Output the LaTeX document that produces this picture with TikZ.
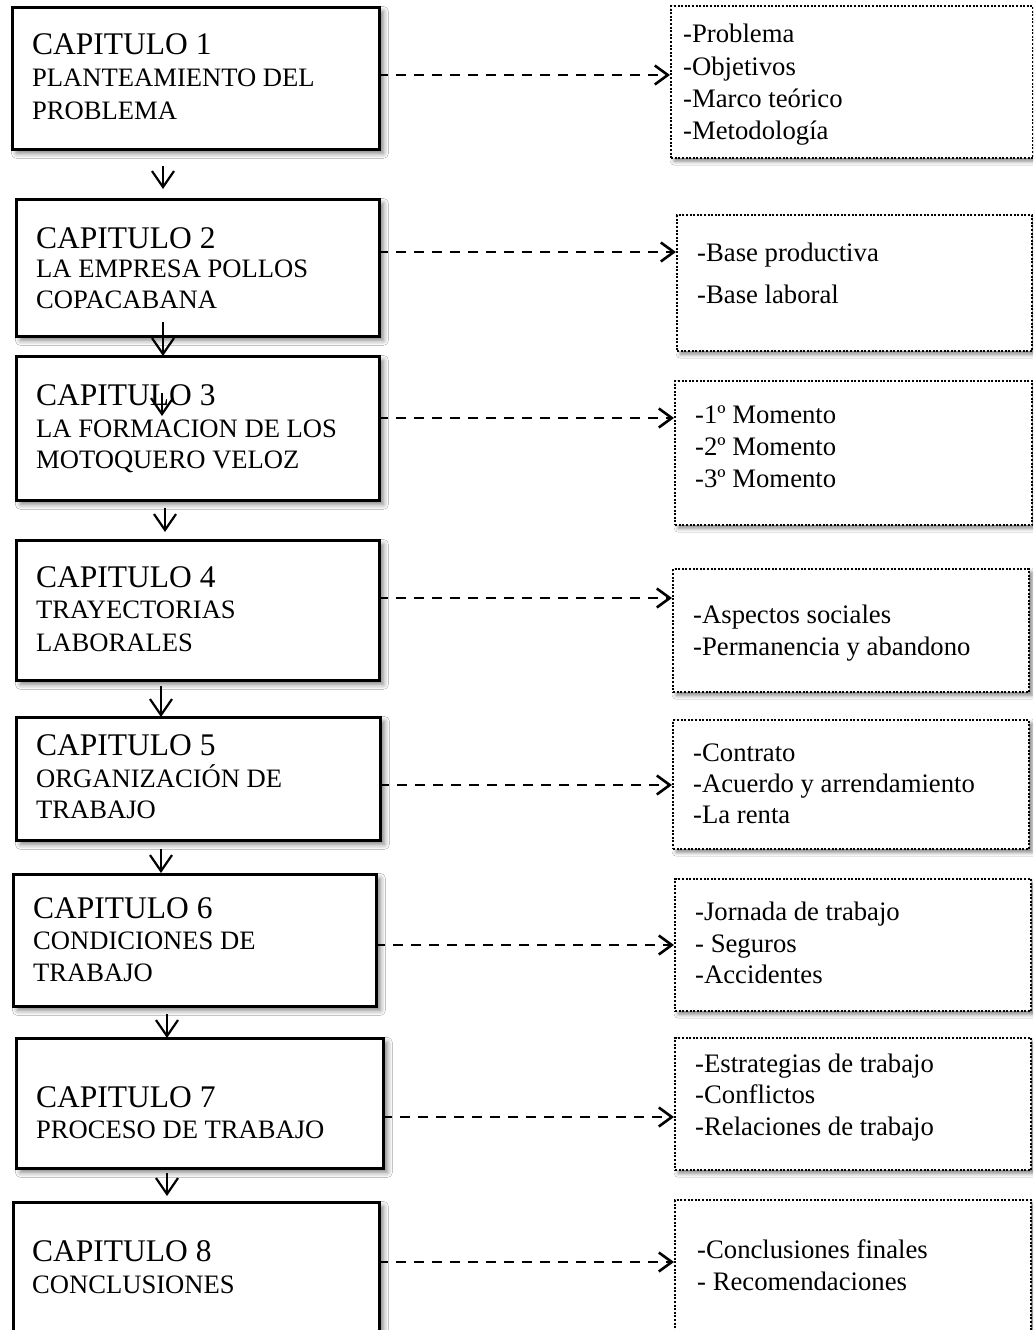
\documentclass[tikz,border=0pt]{standalone}
\usepackage{fontspec}
\setmainfont{Liberation Serif}
\usetikzlibrary{arrows.meta,shadows.blur}

\tikzset{
  chapbox/.style={draw=black, line width=2.8pt, fill=white, rectangle, inner sep=0pt,
    anchor=north west,
    blur shadow={shadow xshift=4pt, shadow yshift=-4pt, shadow blur radius=5pt, shadow opacity=50}},
  itembox/.style={draw=black, line width=2.4pt, dash pattern=on 2pt off 1.6pt, fill=white,
    rectangle, inner sep=0pt, anchor=north west,
    blur shadow={shadow xshift=3pt, shadow yshift=-3pt, shadow blur radius=4pt, shadow opacity=50}},
  head/.style={anchor=base west, inner sep=0pt, font=\fontsize{31.5}{33}\selectfont},
  sub/.style={anchor=base west, inner sep=0pt, font=\fontsize{26.6}{31}\selectfont},
  item/.style={anchor=base west, inner sep=0pt, font=\fontsize{26.7}{31}\selectfont},
  down/.style={line width=2.2pt, -{Straight Barb[length=16pt, width=22pt, line width=2.2pt]}},
  side/.style={line width=2.6pt, dash pattern=on 10pt off 8pt,
    -{Straight Barb[length=13pt, width=19pt, line width=2.6pt, sep=0pt]}},
}

\begin{document}
\begin{tikzpicture}[x=1pt, y=-1pt]
\clip (0,0) rectangle (1033,1330);
\fill[white] (0,0) rectangle (1033,1330);

% chapter boxes (left column)
\node[chapbox, minimum width=367pt, minimum height=142pt] (b1) at (11,6) {};
\node[chapbox, minimum width=363pt, minimum height=137pt] (b2) at (15,198) {};
\node[chapbox, minimum width=363pt, minimum height=144pt] (b3) at (15,355) {};
\node[chapbox, minimum width=363pt, minimum height=140pt] (b4) at (15,539) {};
\node[chapbox, minimum width=364pt, minimum height=123pt] (b5) at (15,716) {};
\node[chapbox, minimum width=363pt, minimum height=132pt] (b6) at (12,873) {};
\node[chapbox, minimum width=367pt, minimum height=130pt] (b7) at (15,1037) {};
\node[chapbox, minimum width=366pt, minimum height=170pt] (b8) at (12,1201) {};

% content boxes (right column)
\node[itembox, minimum width=362pt, minimum height=152pt] (r1) at (670,5) {};
\node[itembox, minimum width=355pt, minimum height=136pt] (r2) at (676,214) {};
\node[itembox, minimum width=357pt, minimum height=144pt] (r3) at (674,380) {};
\node[itembox, minimum width=356pt, minimum height=123pt] (r4) at (672,568) {};
\node[itembox, minimum width=356pt, minimum height=129pt] (r5) at (672,719) {};
\node[itembox, minimum width=356pt, minimum height=132pt] (r6) at (674,878) {};
\node[itembox, minimum width=356pt, minimum height=132pt] (r7) at (674,1037) {};
\node[itembox, minimum width=356pt, minimum height=170pt] (r8) at (674,1199) {};

% chapter titles
\node[head] (h1) at (32,55) {CAPITULO 1};
\node[sub] (h1a) at (32,86) {PLANTEAMIENTO DEL};
\node[sub] (h1b) at (32,119) {PROBLEMA};

\node[head] (h2) at (36,248) {CAPITULO 2};
\node[sub] (h2a) at (36,277) {LA EMPRESA POLLOS};
\node[sub] (h2b) at (36,308) {COPACABANA};

\node[head] (h3) at (36,405) {CAPITULO 3};
\node[sub] (h3a) at (36,437) {LA FORMACION DE LOS};
\node[sub] (h3b) at (36,468) {MOTOQUERO VELOZ};

\node[head] (h4) at (36,587) {CAPITULO 4};
\node[sub] (h4a) at (36,618) {TRAYECTORIAS};
\node[sub] (h4b) at (36,651) {LABORALES};

\node[head] (h5) at (36,755) {CAPITULO 5};
\node[sub] (h5a) at (36,787) {ORGANIZACIÓN DE};
\node[sub] (h5b) at (36,818) {TRABAJO};

\node[head] (h6) at (33,918) {CAPITULO 6};
\node[sub] (h6a) at (33,949) {CONDICIONES DE};
\node[sub] (h6b) at (33,981) {TRABAJO};

\node[head] (h7) at (36,1107) {CAPITULO 7};
\node[sub] (h7a) at (36,1138) {PROCESO DE TRABAJO};

\node[head] (h8) at (32,1261) {CAPITULO 8};
\node[sub] (h8a) at (32,1293) {CONCLUSIONES};

% chapter contents
\node[item] (i11) at (683,43) {-Problema};
\node[item] (i12) at (683,75) {-Objetivos};
\node[item] (i13) at (683,107) {-Marco teórico};
\node[item] (i14) at (683,139) {-Metodología};

\node[item] (i21) at (697,261) {-Base productiva};
\node[item] (i22) at (697,303) {-Base laboral};

\node[item] (i31) at (695,423) {-1º Momento};
\node[item] (i32) at (695,455) {-2º Momento};
\node[item] (i33) at (695,487) {-3º Momento};

\node[item] (i41) at (693,623) {-Aspectos sociales};
\node[item] (i42) at (693,655) {-Permanencia y abandono};

\node[item] (i51) at (693,761) {-Contrato};
\node[item] (i52) at (693,792) {-Acuerdo y arrendamiento};
\node[item] (i53) at (693,823) {-La renta};

\node[item] (i61) at (695,920) {-Jornada de trabajo};
\node[item] (i62) at (695,952) {- Seguros};
\node[item] (i63) at (695,983) {-Accidentes};

\node[item] (i71) at (695,1072) {-Estrategias de trabajo};
\node[item] (i72) at (695,1103) {-Conflictos};
\node[item] (i73) at (695,1135) {-Relaciones de trabajo};

\node[item] (i81) at (697,1258) {-Conclusiones finales};
\node[item] (i82) at (697,1290) {- Recomendaciones};

% end points of the downward arrows
\coordinate (a1s) at (163,166);  \coordinate (a1e) at (163,189);
\coordinate (a2s) at (163,322);  \coordinate (a2e) at (163,356);
\coordinate (a3s) at (165,508);  \coordinate (a3e) at (165,532);
\coordinate (a4s) at (161,686);  \coordinate (a4e) at (161,717);
\coordinate (a5s) at (161,849);  \coordinate (a5e) at (161,873);
\coordinate (a6s) at (167,1014); \coordinate (a6e) at (167,1038);
\coordinate (a7s) at (167,1173); \coordinate (a7e) at (167,1196);
\coordinate (sx1) at (162,393);  \coordinate (sx2) at (162,416);

\draw[down] (a1s) -- (a1e);
\draw[down] (a2s) -- (a2e);
\draw[down] (a3s) -- (a3e);
\draw[down] (a4s) -- (a4e);
\draw[down] (a5s) -- (a5e);
\draw[down] (a6s) -- (a6e);
\draw[down] (a7s) -- (a7e);
\draw[down] (sx1) -- (sx2);

% dashed links from each chapter to its contents
\coordinate (d1) at (378,75);
\coordinate (d2) at (378,252);
\coordinate (d3) at (378,418);
\coordinate (d4) at (378,598);
\coordinate (d5) at (379,785);
\coordinate (d6) at (375,945);
\coordinate (d7) at (382,1117);
\coordinate (d8) at (378,1262);

\draw[side] (d1) -- (r1.west |- d1);
\draw[side] (d2) -- (r2.west |- d2);
\draw[side] (d3) -- (r3.west |- d3);
\draw[side] (d4) -- (r4.west |- d4);
\draw[side] (d5) -- (r5.west |- d5);
\draw[side] (d6) -- (r6.west |- d6);
\draw[side] (d7) -- (r7.west |- d7);
\draw[side] (d8) -- (r8.west |- d8);
\end{tikzpicture}
\end{document}
